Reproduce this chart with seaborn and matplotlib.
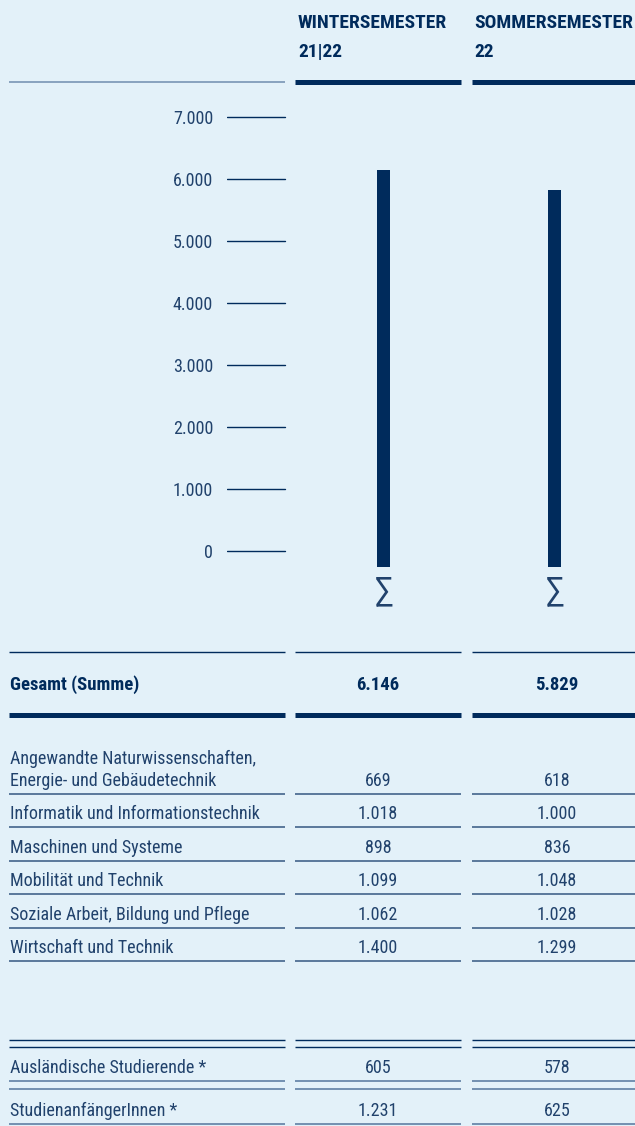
#!/usr/bin/env python3
# Studierende je Fakultaet, WS 21|22 vs SS 22 - bar + table infographic

import numpy as np
import pandas as pd
import seaborn as sns
import matplotlib.pyplot as plt
from matplotlib import font_manager
from matplotlib.font_manager import FontProperties

semester_names = ['WINTERSEMESTER', 'SOMMERSEMESTER']
semester_years = ['21|22', '22']
faculties = ['Angewandte Naturwissenschaften,\nEnergie- und Gebäudetechnik',
             'Informatik und Informationstechnik',
             'Maschinen und Systeme',
             'Mobilität und Technik',
             'Soziale Arbeit, Bildung und Pflege',
             'Wirtschaft und Technik']
ws_students = [669, 1018, 898, 1099, 1062, 1400]
ss_students = [618, 1000, 836, 1048, 1028, 1299]
extra_labels = ['Ausländische Studierende *', 'StudienanfängerInnen *']
extra_ws = [605, 1231]
extra_ss = [578, 625]
y_ticks = [0, 1000, 2000, 3000, 4000, 5000, 6000, 7000]

bg = '#E3F1F9'
navy = '#002B5C'
text_col = '#21426C'
rule_col = '#3D5E87'
light_rule = '#7592B2'

def de(v):
    return f'{v:,}'.replace(',', '.')

sns.set_theme(style='white', rc={'axes.facecolor': bg, 'figure.facecolor': bg})

# condensed font if there is one
narrow = 'DejaVu Sans'
for name in ['Liberation Sans Narrow', 'Roboto Condensed', 'Open Sans Condensed']:
    try:
        font_manager.findfont(FontProperties(family=name), fallback_to_default=False)
        narrow = name
        break
    except ValueError:
        pass
plt.rcParams['font.family'] = [narrow, 'DejaVu Sans']

W, H = 635, 1126
px = 0.72  # one pixel in points at dpi 100
body_fs = 13

fig = plt.figure(figsize=(W / 100, H / 100), dpi=100)
fig.patch.set_facecolor(bg)

# table layer in pixel coordinates
tab = fig.add_axes([0, 0, 1, 1])
tab.set_xlim(0, W)
tab.set_ylim(H, 0)
tab.axis('off')

spans = [(9, 285), (295, 461), (472, 635)]
val_x = [378, 557]
head_x = [298, 474]

def rule(y, lw, color, which=(0, 1, 2)):
    for k in which:
        a, b = spans[k]
        tab.plot([a, b], [y, y], lw=lw * px, color=color, solid_capstyle='butt')

# header
for i in range(2):
    tab.text(head_x[i], 23, semester_names[i], ha='left', va='center', fontsize=14,
             fontweight='bold', color=navy)
    tab.text(head_x[i], 52, semester_years[i], ha='left', va='center', fontsize=14,
             fontweight='bold', color=navy)
rule(82, 1.6, light_rule, which=(0,))
rule(82, 5, navy, which=(1, 2))

# bar chart
totals = [sum(ws_students), sum(ss_students)]
scale = 0.062  # px per student
ax_bot, ax_top = 590, 95
ax = fig.add_axes([227 / W, 1 - ax_bot / H, (W - 227) / W, (ax_bot - ax_top) / H])
ax.set_facecolor('none')
df = pd.DataFrame({'semester': semester_names, 'total': totals})
sns.barplot(data=df, x='semester', y='total', ax=ax, color=navy, saturation=1,
            width=0.079, linewidth=0)
stem = 258
for p in ax.patches:
    p.set_y(-stem)
    p.set_height(p.get_height() + stem)
ax.set_ylim(-(ax_bot - 551) / scale, (551 - ax_top) / scale)
ax.set_xlim((227 - 383.5) / 171, (W - 383.5) / 171)
for t in y_ticks:
    ax.axhline(t, xmin=0, xmax=(285 - 227) / (W - 227), color=navy, lw=1.4 * px)
ax.set_yticks(y_ticks)
ax.set_yticklabels([de(t) for t in y_ticks])
ax.tick_params(axis='y', length=0, pad=10, labelsize=13, labelcolor=text_col)
ax.set_xticks([])
ax.set_xlabel('')
ax.set_ylabel('')
for s in ax.spines.values():
    s.set_visible(False)
for i in range(len(totals)):
    ax.annotate('∑', xy=(i, -stem), xytext=(0, -6), textcoords='offset points',
                ha='center', va='top', fontsize=25, color=text_col,
                annotation_clip=False)

# totals row
rule(652, 1.4, navy)
tab.text(10, 685, 'Gesamt (Summe)', ha='left', va='center', fontsize=13.5,
         fontweight='bold', color=navy)
for i in range(2):
    tab.text(val_x[i], 685, de(totals[i]), ha='center', va='center', fontsize=13.5,
             fontweight='bold', color=navy)
rule(715, 5, navy)

# faculties
for i, name in enumerate(faculties):
    y = 794 + i * 33.4
    tab.text(10, y - 4, name, ha='left', va='bottom', fontsize=body_fs, color=text_col,
             linespacing=1.3)
    tab.text(val_x[0], y - 4, de(ws_students[i]), ha='center', va='bottom',
             fontsize=body_fs, color=text_col)
    tab.text(val_x[1], y - 4, de(ss_students[i]), ha='center', va='bottom',
             fontsize=body_fs, color=text_col)
    rule(y, 1.6, rule_col)

# extra rows
rule(1040, 1.4, navy)
rule(1047, 1.4, navy)
for i, name in enumerate(extra_labels):
    y = 1081 + i * 43
    tab.text(10, y - 4, name, ha='left', va='bottom', fontsize=body_fs, color=text_col)
    tab.text(val_x[0], y - 4, de(extra_ws[i]), ha='center', va='bottom',
             fontsize=body_fs, color=text_col)
    tab.text(val_x[1], y - 4, de(extra_ss[i]), ha='center', va='bottom',
             fontsize=body_fs, color=text_col)
    rule(y, 2, light_rule)
    if i < len(extra_labels) - 1:
        rule(y + 8, 2, light_rule)

fig.savefig('out.png', dpi=100, facecolor=bg)
